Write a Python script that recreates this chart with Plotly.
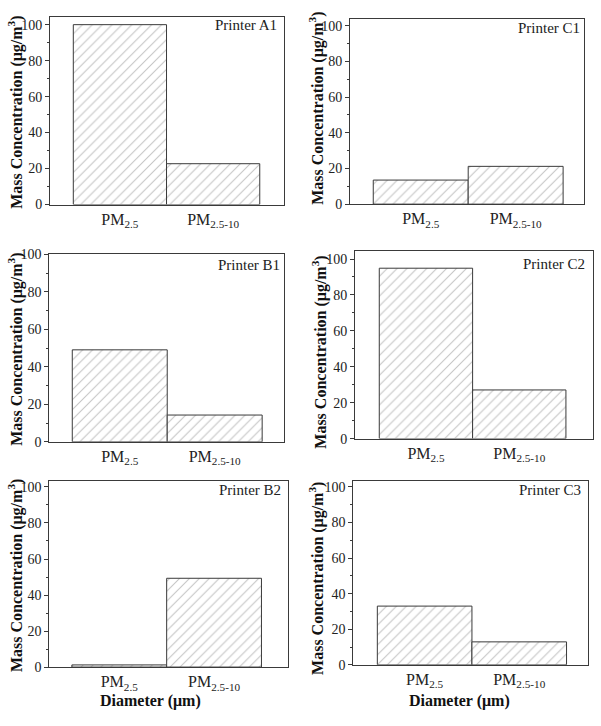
import plotly.graph_objects as go

W, H = 601, 726

categories = ["PM2.5", "PM2.5-10"]
tick_labels = ["PM<sub>2.5</sub>", "PM<sub>2.5-10</sub>"]
printers = ["Printer A1", "Printer C1", "Printer B1", "Printer C2", "Printer B2", "Printer C3"]

values_A1 = [100.0, 22.7]
values_C1 = [13.5, 21.2]
values_B1 = [49.1, 14.3]
values_C2 = [94.9, 27.1]
values_B2 = [1.2, 49.3]
values_C3 = [33.0, 12.9]
series = [values_A1, values_C1, values_B1, values_C2, values_B2, values_C3]

y_ticks = [0, 20, 40, 60, 80, 100]

# panel geometry in pixels: left, right, top, bottom, ymax, xrange
panels = [
    (50, 284, 10.7, 201.7, 104.0, (-0.75, 1.76)),
    (350, 584, 12.7, 201.3, 103.6, (-0.745, 1.72)),
    (49.3, 284, 252.7, 444, 100.0, (-0.742, 1.73)),
    (355, 593, 249.3, 440.7, 104.4, (-0.76, 1.79)),
    (49.3, 288, 484, 674, 103.3, (-0.738, 1.78)),
    (353.3, 588.3, 484, 671.7, 103.3, (-0.754, 1.73)),
]
title_pos = [(16, 108), (317, 104), (16, 350), (320, 353), (16, 581), (317, 584)]
label_pos = [(279, 18), (582, 21), (282, 263), (587, 262), (283, 493), (583, 493)]

def px(x):
    return x / W

def py(y):
    return 1 - y / H

FONT = "Liberation Serif, Times New Roman, DejaVu Serif, serif"
LINE = "#3a3a3a"

fig = go.Figure()
annotations = []
for i, (vals, (l, r, t, b, ymax, xr)) in enumerate(zip(series, panels)):
    n = "" if i == 0 else str(i + 1)
    fig.add_trace(go.Bar(
        x=[0, 1], y=vals, width=1,
        marker=dict(color="white", line=dict(color=LINE, width=1),
                    pattern=dict(shape="/", fgcolor="#888888", bgcolor="white",
                                 size=7, solidity=0.15)),
        xaxis="x" + n, yaxis="y" + n, showlegend=False,
    ))
    fig.layout["xaxis" + n] = dict(
        domain=[px(l), px(r)], range=list(xr), anchor="y" + n,
        tickvals=[0, 1], ticktext=tick_labels, ticks="",
        showline=True, mirror=True, linecolor=LINE, linewidth=1,
        showgrid=False, zeroline=False,
        tickfont=dict(family=FONT, size=16, color="#222"),
    )
    fig.layout["yaxis" + n] = dict(
        domain=[py(b), py(t)], range=[0, ymax], anchor="x" + n,
        tickvals=y_ticks, ticks="outside", ticklen=4, tickcolor=LINE,
        minor=dict(dtick=10, ticks="outside", ticklen=2, tickcolor=LINE, showgrid=False),
        showline=True, mirror=True, linecolor=LINE, linewidth=1,
        showgrid=False, zeroline=False,
        tickfont=dict(family=FONT, size=14, color="#222"),
    )
    tx, ty = title_pos[i]
    annotations.append(dict(
        x=px(tx), y=py(ty), xref="paper", yref="paper",
        text="<b>Mass Concentration (μg/m<sup>3</sup>)</b>", textangle=-90,
        showarrow=False, xanchor="center", yanchor="middle",
        font=dict(family=FONT, size=16, color="#111"),
    ))
    lx, ly = label_pos[i]
    annotations.append(dict(
        x=px(lx), y=py(ly), xref="paper", yref="paper",
        text=printers[i], showarrow=False, xanchor="right", yanchor="middle",
        font=dict(family=FONT, size=15, color="#222"),
    ))

for cx in (150, 459.5):
    annotations.append(dict(
        x=px(cx), y=py(708.7), xref="paper", yref="paper",
        text="<b>Diameter (μm)</b>", showarrow=False,
        xanchor="center", yanchor="middle",
        font=dict(family=FONT, size=16, color="#111"),
    ))

fig.update_layout(
    width=W, height=H, margin=dict(l=0, r=0, t=0, b=0),
    paper_bgcolor="white", plot_bgcolor="white",
    annotations=annotations, bargap=0,
)

fig.write_html(
    "out.html",
    config={"displayModeBar": False, "staticPlot": True},
    post_script="document.body.style.margin='0';document.body.style.overflow='hidden';",
)
